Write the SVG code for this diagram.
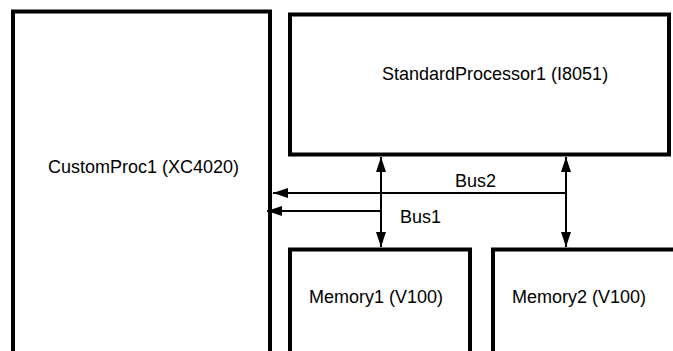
<svg xmlns="http://www.w3.org/2000/svg" width="673" height="351" viewBox="0 0 673 351">
<style>
.box{fill:#fff;stroke:#000;stroke-width:4}
.lbl{font-family:"Liberation Sans",Arial,sans-serif;font-size:18px;fill:#000}
.bus{stroke:#000;stroke-width:2;fill:none}
</style>
<defs>
<marker id="ah" viewBox="0 0 15 10" refX="15" refY="5" markerWidth="15" markerHeight="10" markerUnits="userSpaceOnUse" orient="auto-start-reverse">
<path d="M0,0 L15,5 L0,10 z" fill="#000"/>
</marker>
</defs>
<rect width="673" height="351" fill="#fff"/>
<g id="CustomProc1">
<rect class="box" x="13" y="11.5" width="257" height="360"/>
<text class="lbl" x="48" y="173">CustomProc1 (XC4020)</text>
</g>
<g id="StandardProcessor1">
<rect class="box" x="290" y="14.5" width="379" height="140"/>
<text class="lbl" x="382" y="80">StandardProcessor1 (I8051)</text>
</g>
<g id="Memory1">
<rect class="box" x="290" y="249.5" width="180" height="120"/>
<text class="lbl" x="309" y="303">Memory1 (V100)</text>
</g>
<g id="Memory2">
<rect class="box" x="493" y="249.5" width="200" height="120"/>
<text class="lbl" x="512" y="303">Memory2 (V100)</text>
</g>
<g id="connectors">
<line class="bus" x1="381" y1="157" x2="381" y2="247" marker-start="url(#ah)" marker-end="url(#ah)"/>
<line class="bus" x1="566" y1="157" x2="566" y2="247" marker-start="url(#ah)" marker-end="url(#ah)"/>
<line class="bus" x1="566" y1="193" x2="273" y2="193" marker-end="url(#ah)"/>
<line class="bus" x1="381" y1="211" x2="267" y2="211" marker-end="url(#ah)"/>
<text class="lbl" x="455" y="187">Bus2</text>
<text class="lbl" x="400" y="223">Bus1</text>
</g>
</svg>
